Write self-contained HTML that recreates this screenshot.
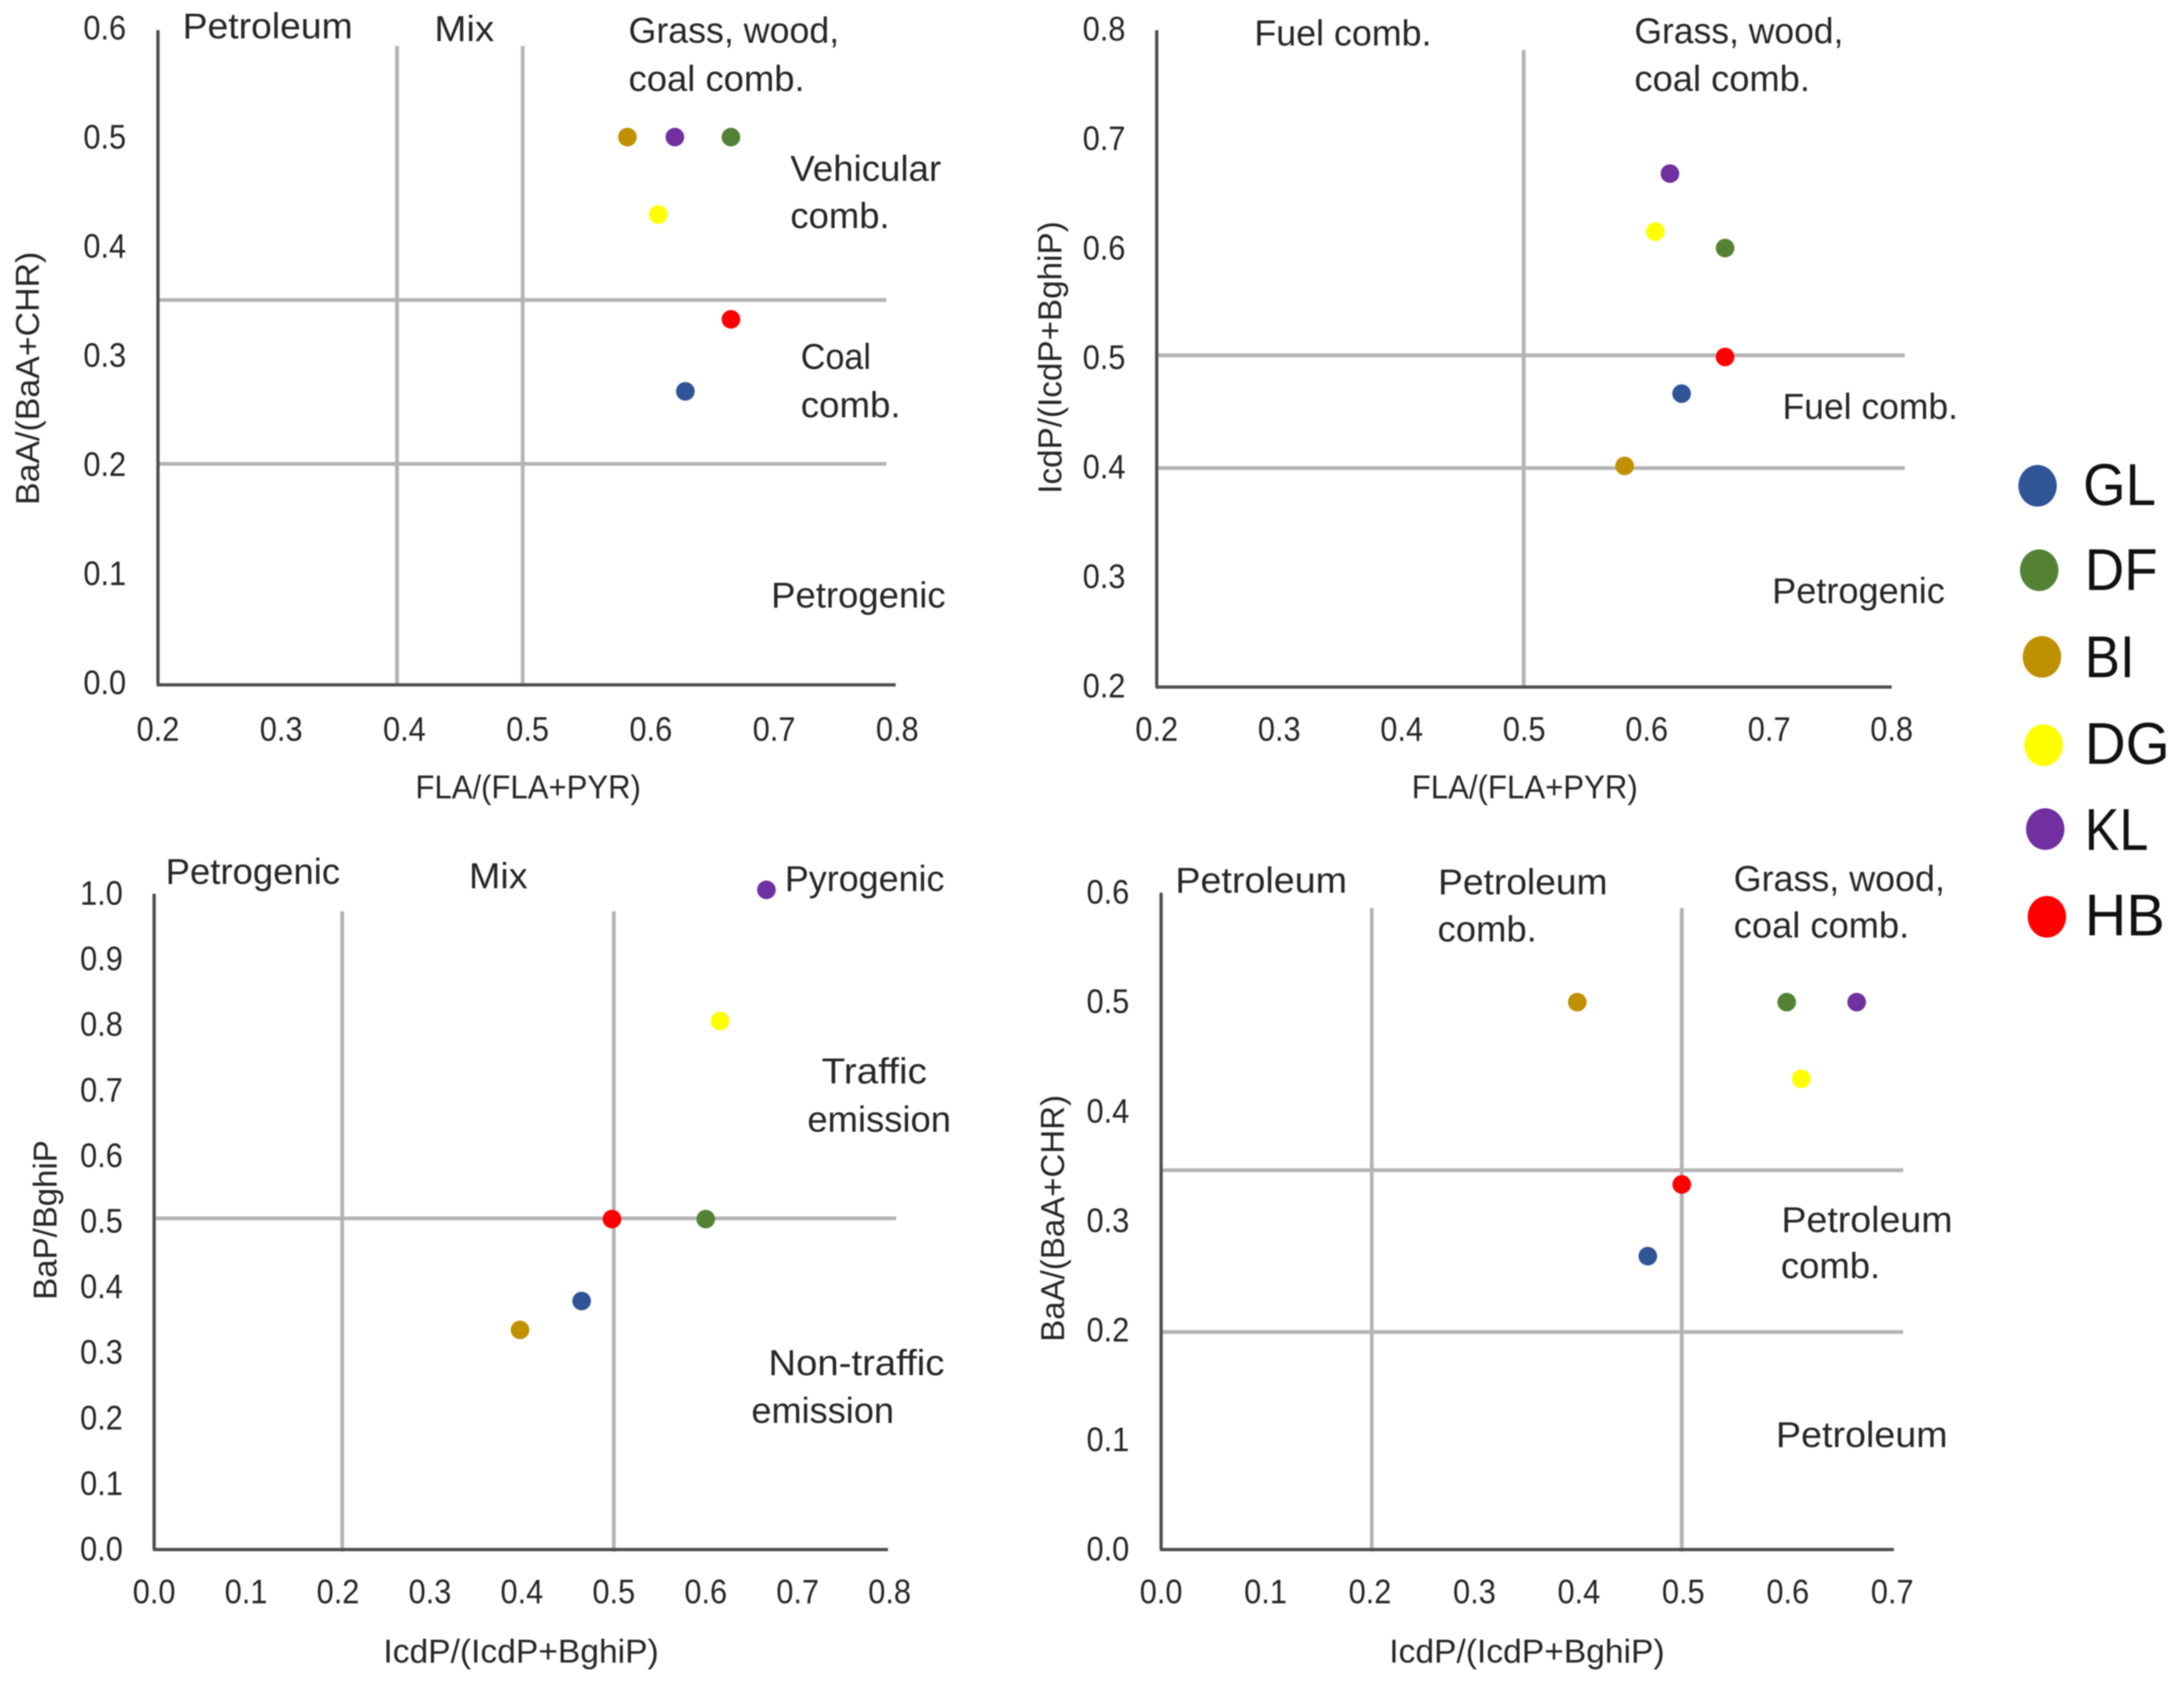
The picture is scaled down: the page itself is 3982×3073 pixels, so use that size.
<!DOCTYPE html>
<html lang="en">
<head>
<meta charset="utf-8">
<title>PAH diagnostic ratio plots</title>
<style>
html,body{margin:0;padding:0;background:#fff;}
svg{display:block;filter:blur(1.1px);}
text{font-family:"Liberation Sans",sans-serif;fill:#262626;}
.note{font-size:66px;}
.title{font-size:60px;}
.tick{font-size:62px;}
.leg{font-size:108px;fill:#111;}
</style>
</head>
<body>
<svg id="chart" xmlns="http://www.w3.org/2000/svg" width="3982" height="3073" viewBox="0 0 3982 3073">
<rect width="3982" height="3073" fill="#fff"/>
<g id="plots"></g>

<g>
<text class="note" x="333" y="70" textLength="310" lengthAdjust="spacingAndGlyphs">Petroleum</text>
<text class="note" x="792" y="75" textLength="109" lengthAdjust="spacingAndGlyphs">Mix</text>
<text class="note" x="1146" y="78" textLength="384" lengthAdjust="spacingAndGlyphs">Grass, wood,</text>
<text class="note" x="1146" y="166" textLength="321" lengthAdjust="spacingAndGlyphs">coal comb.</text>
<text class="note" x="1441" y="330" textLength="275" lengthAdjust="spacingAndGlyphs">Vehicular</text>
<text class="note" x="1441" y="416" textLength="181" lengthAdjust="spacingAndGlyphs">comb.</text>
<text class="note" x="1460" y="673" textLength="128" lengthAdjust="spacingAndGlyphs">Coal</text>
<text class="note" x="1460" y="761" textLength="182" lengthAdjust="spacingAndGlyphs">comb.</text>
<text class="note" x="1406" y="1108" textLength="318" lengthAdjust="spacingAndGlyphs">Petrogenic</text>
<text class="title" x="963" y="1456" text-anchor="middle" textLength="411" lengthAdjust="spacingAndGlyphs">FLA/(FLA+PYR)</text>
<text class="title" transform="translate(71,690) rotate(-90)" text-anchor="middle" textLength="462" lengthAdjust="spacingAndGlyphs">BaA/(BaA+CHR)</text>
</g>

<g>
<text class="note" x="2287" y="83" textLength="323" lengthAdjust="spacingAndGlyphs">Fuel comb.</text>
<text class="note" x="2980" y="79" textLength="381" lengthAdjust="spacingAndGlyphs">Grass, wood,</text>
<text class="note" x="2980" y="166" textLength="320" lengthAdjust="spacingAndGlyphs">coal comb.</text>
<text class="note" x="3250" y="764" textLength="320" lengthAdjust="spacingAndGlyphs">Fuel comb.</text>
<text class="note" x="3231" y="1100" textLength="315" lengthAdjust="spacingAndGlyphs">Petrogenic</text>
<text class="title" x="2780" y="1456" text-anchor="middle" textLength="412" lengthAdjust="spacingAndGlyphs">FLA/(FLA+PYR)</text>
<text class="title" transform="translate(1935,652) rotate(-90)" text-anchor="middle" textLength="497" lengthAdjust="spacingAndGlyphs">IcdP/(IcdP+BghiP)</text>
</g>

<g>
<text class="note" x="302" y="1612" textLength="318" lengthAdjust="spacingAndGlyphs">Petrogenic</text>
<text class="note" x="855" y="1620" textLength="107" lengthAdjust="spacingAndGlyphs">Mix</text>
<text class="note" x="1431" y="1625" textLength="291" lengthAdjust="spacingAndGlyphs">Pyrogenic</text>
<text class="note" x="1498" y="1976" textLength="192" lengthAdjust="spacingAndGlyphs">Traffic</text>
<text class="note" x="1472" y="2064" textLength="262" lengthAdjust="spacingAndGlyphs">emission</text>
<text class="note" x="1401" y="2508" textLength="321" lengthAdjust="spacingAndGlyphs">Non-traffic</text>
<text class="note" x="1370" y="2595" textLength="260" lengthAdjust="spacingAndGlyphs">emission</text>
<text class="title" x="950" y="3032" text-anchor="middle" textLength="502" lengthAdjust="spacingAndGlyphs">IcdP/(IcdP+BghiP)</text>
<text class="title" transform="translate(103,2225) rotate(-90)" text-anchor="middle" textLength="291" lengthAdjust="spacingAndGlyphs">BaP/BghiP</text>
</g>

<g>
<text class="note" x="2143" y="1628" textLength="313" lengthAdjust="spacingAndGlyphs">Petroleum</text>
<text class="note" x="2622" y="1631" textLength="309" lengthAdjust="spacingAndGlyphs">Petroleum</text>
<text class="note" x="2621" y="1717" textLength="181" lengthAdjust="spacingAndGlyphs">comb.</text>
<text class="note" x="3161" y="1625" textLength="385" lengthAdjust="spacingAndGlyphs">Grass, wood,</text>
<text class="note" x="3161" y="1710" textLength="320" lengthAdjust="spacingAndGlyphs">coal comb.</text>
<text class="note" x="3248" y="2247" textLength="312" lengthAdjust="spacingAndGlyphs">Petroleum</text>
<text class="note" x="3247" y="2331" textLength="181" lengthAdjust="spacingAndGlyphs">comb.</text>
<text class="note" x="3238" y="2639" textLength="313" lengthAdjust="spacingAndGlyphs">Petroleum</text>
<text class="title" x="2784" y="3032" text-anchor="middle" textLength="502" lengthAdjust="spacingAndGlyphs">IcdP/(IcdP+BghiP)</text>
<text class="title" transform="translate(1940,2222) rotate(-90)" text-anchor="middle" textLength="450" lengthAdjust="spacingAndGlyphs">BaA/(BaA+CHR)</text>
</g>

<g>
<g><ellipse cx="3715" cy="886" rx="35" ry="38" fill="#2f5597"/><text class="leg" x="3798" y="921" textLength="133" lengthAdjust="spacingAndGlyphs">GL</text></g>
<g><ellipse cx="3718" cy="1040" rx="35" ry="38" fill="#548235"/><text class="leg" x="3801" y="1076" textLength="133" lengthAdjust="spacingAndGlyphs">DF</text></g>
<g><ellipse cx="3723" cy="1198" rx="35" ry="38" fill="#bf9000"/><text class="leg" x="3801" y="1235" textLength="91" lengthAdjust="spacingAndGlyphs">BI</text></g>
<g><ellipse cx="3726" cy="1359" rx="35" ry="38" fill="#ffff00"/><text class="leg" x="3801" y="1393" textLength="155" lengthAdjust="spacingAndGlyphs">DG</text></g>
<g><ellipse cx="3729" cy="1512" rx="35" ry="38" fill="#7030a0"/><text class="leg" x="3801" y="1550" textLength="116" lengthAdjust="spacingAndGlyphs">KL</text></g>
<g><ellipse cx="3732" cy="1672" rx="35" ry="38" fill="#ff0000"/><text class="leg" x="3801" y="1706" textLength="146" lengthAdjust="spacingAndGlyphs">HB</text></g>
</g>
</svg>

<script>
// Data ---------------------------------------------------------------
const sites = ['GL', 'DF', 'BI', 'DG', 'KL', 'HB'];
const siteColors = ['#2f5597', '#548235', '#bf9000', '#ffff00', '#7030a0', '#ff0000'];

const panel1X = [0.628, 0.665, 0.581, 0.606, 0.6195, 0.665];
const panel1Y = [0.269, 0.502, 0.502, 0.431, 0.502, 0.335];
const panel2X = [0.6285, 0.664, 0.582, 0.607, 0.619, 0.664];
const panel2Y = [0.468, 0.601, 0.402, 0.616, 0.669, 0.5015];
const panel3X = [0.465, 0.600, 0.398, 0.6155, 0.666, 0.498];
const panel3Y = [0.379, 0.504, 0.335, 0.806, 1.006, 0.504];
const panel4X = [0.466, 0.599, 0.3985, 0.613, 0.666, 0.4985];
const panel4Y = [0.268, 0.5, 0.5, 0.43, 0.5, 0.3335];

const panel1XTicks = ['0.2', '0.3', '0.4', '0.5', '0.6', '0.7', '0.8'];
const panel1YTicks = ['0.0', '0.1', '0.2', '0.3', '0.4', '0.5', '0.6'];
const panel2XTicks = ['0.2', '0.3', '0.4', '0.5', '0.6', '0.7', '0.8'];
const panel2YTicks = ['0.2', '0.3', '0.4', '0.5', '0.6', '0.7', '0.8'];
const panel3XTicks = ['0.0', '0.1', '0.2', '0.3', '0.4', '0.5', '0.6', '0.7', '0.8'];
const panel3YTicks = ['0.0', '0.1', '0.2', '0.3', '0.4', '0.5', '0.6', '0.7', '0.8', '0.9', '1.0'];
const panel4XTicks = ['0.0', '0.1', '0.2', '0.3', '0.4', '0.5', '0.6', '0.7'];
const panel4YTicks = ['0.0', '0.1', '0.2', '0.3', '0.4', '0.5', '0.6'];

const panel1VLines = [0.394, 0.496];
const panel1HLines = [0.3527, 0.2025];
const panel2VLines = [0.4996];
const panel2HLines = [0.503, 0.4];
const panel3VLines = [0.2046, 0.5];
const panel3HLines = [0.505];
const panel4VLines = [0.2017, 0.4985];
const panel4HLines = [0.3465, 0.1988];

// Layout -------------------------------------------------------------
const panels = [
  {id: 1, xs: panel1X, ys: panel1Y, xt: panel1XTicks, yt: panel1YTicks, vl: panel1VLines, hl: panel1HLines,
   dom: [0.2, 0.8, 0, 0.6], left: 288, right: 1636, bottom: 1249, top: 55, axisEnd: 1633, yLabelX: 230, yLabelShift: 17, xLabelY: 1351, vTop: 84, vBottom: 1249, hLeft: 289, hRight: 1616},
  {id: 2, xs: panel2X, ys: panel2Y, xt: panel2XTicks, yt: panel2YTicks, vl: panel2VLines, hl: panel2HLines,
   dom: [0.2, 0.8, 0.2, 0.8], left: 2109, right: 3449, bottom: 1253, top: 55, axisEnd: 3449, yLabelX: 2052, yLabelShift: 19, xLabelY: 1351, vTop: 91, vBottom: 1253, hLeft: 2112, hRight: 3473},
  {id: 3, xs: panel3X, ys: panel3Y, xt: panel3XTicks, yt: panel3YTicks, vl: panel3VLines, hl: panel3HLines,
   dom: [0, 0.8, 0, 1], left: 281, right: 1622, bottom: 2826, top: 1630, axisEnd: 1619, yLabelX: 224, yLabelShift: 20, xLabelY: 2924, vTop: 1662, vBottom: 2830, hLeft: 281, hRight: 1634},
  {id: 4, xs: panel4X, ys: panel4Y, xt: panel4XTicks, yt: panel4YTicks, vl: panel4VLines, hl: panel4HLines,
   dom: [0, 0.7, 0, 0.6], left: 2117, right: 3450, bottom: 2826, top: 1628, axisEnd: 3453, yLabelX: 2059, yLabelShift: 20, xLabelY: 2924, vTop: 1656, vBottom: 2830, hLeft: 2117, hRight: 3470}
];

const NS = 'http://www.w3.org/2000/svg';
const root = document.getElementById('plots');

function svgEl(tag, parent, attrs) {
  const el = document.createElementNS(NS, tag);
  for (const k in attrs) el.setAttribute(k, attrs[k]);
  parent.appendChild(el);
  return el;
}
function linear(d0, d1, r0, r1) {
  return v => r0 + (v - d0) / (d1 - d0) * (r1 - r0);
}

panels.forEach(p => {
  const sx = linear(p.dom[0], p.dom[1], p.left, p.right);
  const sy = linear(p.dom[2], p.dom[3], p.bottom, p.top);

  const g = svgEl('g', root, {});
  
  

  p.vl.forEach(v => {
    const line = svgEl('line', g, {x1: sx(v), x2: sx(v), y1: p.vTop, y2: p.vBottom, stroke: '#b4b4b4', 'stroke-width': 7});
    
    
  });
  p.hl.forEach(v => {
    const line = svgEl('line', g, {x1: p.hLeft, x2: p.hRight, y1: sy(v), y2: sy(v), stroke: '#b4b4b4', 'stroke-width': 7});
    
    
  });

  const xAxis = svgEl('line', g, {x1: p.left - 2, x2: p.axisEnd, y1: p.bottom, y2: p.bottom, stroke: '#4f4f4f', 'stroke-width': 6});
  
  
  const yAxis = svgEl('line', g, {x1: p.left, x2: p.left, y1: p.top, y2: p.bottom, stroke: '#4f4f4f', 'stroke-width': 6});
  
  

  p.xt.forEach(label => {
    const t = svgEl('text', g, {class: 'tick', x: sx(parseFloat(label)), y: p.xLabelY, 'text-anchor': 'middle', textLength: 78, lengthAdjust: 'spacingAndGlyphs'});
    t.textContent = label;
    
    
  });
  p.yt.forEach(label => {
    const t = svgEl('text', g, {class: 'tick', x: p.yLabelX, y: sy(parseFloat(label)) + p.yLabelShift, 'text-anchor': 'end', textLength: 78, lengthAdjust: 'spacingAndGlyphs'});
    t.textContent = label;
    
    
  });

  sites.forEach((site, i) => {
    const c = svgEl('circle', g, {cx: sx(p.xs[i]), cy: sy(p.ys[i]), r: 17, fill: siteColors[i]});
    
    
  });
});
</script>
</body>
</html>
